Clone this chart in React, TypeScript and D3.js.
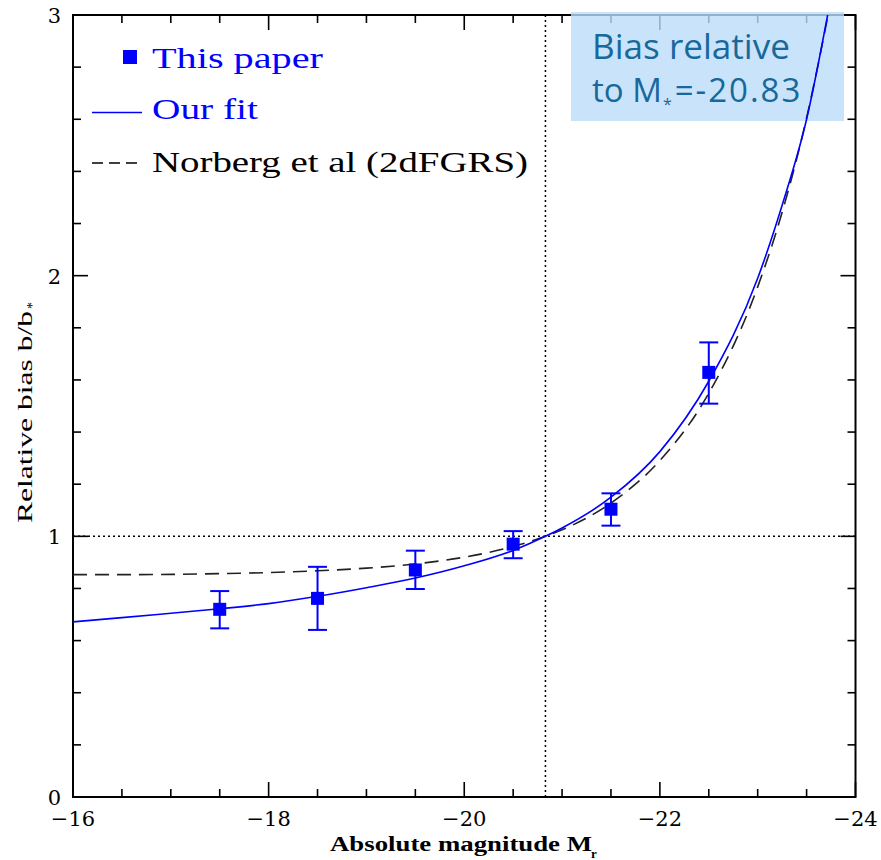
import React from "react";
import * as d3 from "d3";

// ---- data ----
const pointMags = [-17.5, -18.5, -19.5, -20.5, -21.5, -22.5];
const pointBias = [0.72, 0.762, 0.871, 0.97, 1.104, 1.629];
const pointUpper = [0.79, 0.883, 0.945, 1.02, 1.165, 1.744];
const pointLower = [0.647, 0.641, 0.798, 0.916, 1.041, 1.509];

const curveMags = [-16, -16.5, -17, -17.5, -18, -18.5, -19, -19.5, -20, -20.5, -20.83, -21, -21.5, -22, -22.5, -23, -23.25, -23.5, -23.75];
const fitBias = [0.672, 0.688, 0.705, 0.722, 0.742, 0.77, 0.803, 0.84, 0.887, 0.946, 1.0, 1.032, 1.15, 1.325, 1.595, 1.99, 2.27, 2.6, 3.07];
const norbergBias = [0.853, 0.853, 0.854, 0.857, 0.861, 0.868, 0.878, 0.894, 0.92, 0.961, 1.0, 1.025, 1.128, 1.291, 1.549, 1.957, 2.243, 2.605, 3.058];

const mStar = -20.83;
const xMajorTicks = [-16, -18, -20, -22, -24];
const yMajorTicks = [0, 1, 2, 3];
const xTickLabels = ["\u221216", "\u221218", "\u221220", "\u221222", "\u221224"];
const yTickLabels = ["0", "1", "2", "3"];

const legendLabels = ["This paper", "Our fit", "Norberg et al (2dFGRS)"];

export default function App() {
  const L = 73, R = 855.5, T = 15, B = 797;
  const x = d3.scaleLinear().domain([-16, -24]).range([L, R]);
  const y = d3.scaleLinear().domain([0, 3]).range([B, T]);

  const xMinor = d3.range(-16, -24.001, -0.5);
  const yMinor = d3.range(0, 3.001, 0.2);

  const line = d3
    .line<number>()
    .x((_, i) => x(curveMags[i]))
    .curve(d3.curveMonotoneX);
  const fitPath = line.y((v) => y(v))(fitBias) || "";
  const norPath = line.y((v) => y(v))(norbergBias) || "";

  const isMajorX = (v: number) => Math.abs(v / 2 - Math.round(v / 2)) < 1e-6;
  const isMajorY = (v: number) => Math.abs(v - Math.round(v)) < 1e-6;

  const blue = "#0000ff";
  const tickFont = "'DejaVu Serif', serif";
  const legendFont = "'Liberation Serif', serif";
  const noteColor = "#17699b";
  const noteFont = "'Open Sans', sans-serif";

  return (
    <svg
      width={881}
      height={860}
      style={{ position: "absolute", left: 0, top: 0, background: "#fff" }}
    >
      <defs>
        <clipPath id="plotClip">
          <rect x={L} y={T} width={R - L} height={B - T} />
        </clipPath>
      </defs>
      <rect x={0} y={0} width={881} height={860} fill="#fff" />

      {/* frame */}
      <rect x={L} y={T} width={R - L} height={B - T} fill="none" stroke="#000" strokeWidth={2} />

      {/* x ticks bottom and top */}
      {xMinor.map((v, i) => {
        const len = isMajorX(v) ? 15 : 8;
        return (
          <g key={"xt" + i} stroke="#000" strokeWidth={1.6}>
            <line x1={x(v)} x2={x(v)} y1={B} y2={B - len} />
            <line x1={x(v)} x2={x(v)} y1={T} y2={T + len} />
          </g>
        );
      })}
      {/* y ticks left and right */}
      {yMinor.map((v, i) => {
        const len = isMajorY(v) ? 15 : 8;
        return (
          <g key={"yt" + i} stroke="#000" strokeWidth={1.6}>
            <line x1={L} x2={L + len} y1={y(v)} y2={y(v)} />
            <line x1={R} x2={R - len} y1={y(v)} y2={y(v)} />
          </g>
        );
      })}

      {/* tick labels */}
      {xMajorTicks.map((v, i) => (
        <text
          key={"xl" + i}
          x={x(v)}
          y={819}
          textAnchor="middle"
          dominantBaseline="central"
          fontFamily={tickFont}
          fontSize={21}
          fill="#000"
        >
          {xTickLabels[i]}
        </text>
      ))}
      {yMajorTicks.map((v, i) => (
        <text
          key={"yl" + i}
          x={61}
          y={y(v) + 1}
          textAnchor="end"
          dominantBaseline="central"
          fontFamily={tickFont}
          fontSize={21}
          fill="#000"
        >
          {yTickLabels[i]}
        </text>
      ))}

      {/* axis titles */}
      <text x={330} y={851} fontFamily={legendFont} fontWeight="bold" fontSize={20} textLength={262} lengthAdjust="spacingAndGlyphs" fill="#000">
        Absolute magnitude M
      </text>
      <text x={591} y={858} fontFamily={legendFont} fontWeight="bold" fontSize={13} fill="#000">
        r
      </text>
      <g transform="translate(32,410) rotate(-90)">
        <text
          x={-113}
          y={0}
          fontFamily={legendFont}
          fontSize={21}
          fill="#000"
          textLength={212}
          lengthAdjust="spacingAndGlyphs"
        >
          Relative bias b/b
        </text>
        <text x={101} y={5} fontFamily={legendFont} fontSize={14} fill="#000">
          *
        </text>
      </g>

      {/* reference lines */}
      <line x1={L} x2={R} y1={y(1)} y2={y(1)} stroke="#000" strokeWidth={1.5} strokeDasharray="2,3" />
      <line x1={x(mStar)} x2={x(mStar)} y1={T} y2={B} stroke="#000" strokeWidth={1.5} strokeDasharray="2,3" />

      {/* annotation box (semi-transparent) */}
      <rect x={571} y={12} width={273} height={109} fill="#bcdcf9" fillOpacity={0.8} />

      {/* curves */}
      <g clipPath="url(#plotClip)">
        <path d={norPath} fill="none" stroke="#222" strokeWidth={1.6} strokeDasharray="14,8" />
        <path d={fitPath} fill="none" stroke={blue} strokeWidth={1.6} />
      </g>

      {/* error bars and points */}
      {pointMags.map((m, i) => {
        const cx = x(m);
        return (
          <g key={"pt" + i} stroke={blue} strokeWidth={2}>
            <line x1={cx} x2={cx} y1={y(pointUpper[i])} y2={y(pointLower[i])} />
            <line x1={cx - 9.5} x2={cx + 9.5} y1={y(pointUpper[i])} y2={y(pointUpper[i])} />
            <line x1={cx - 9.5} x2={cx + 9.5} y1={y(pointLower[i])} y2={y(pointLower[i])} />
            <rect x={cx - 6.5} y={y(pointBias[i]) - 6.5} width={13} height={13} fill={blue} stroke="none" />
          </g>
        );
      })}

      {/* legend */}
      <rect x={123} y={50} width={14} height={14} fill={blue} />
      <text x={152} y={68} fontFamily={legendFont} fontSize={30} fill={blue} textLength={171} lengthAdjust="spacingAndGlyphs">
        {legendLabels[0]}
      </text>
      <line x1={92} x2={142} y1={112.5} y2={112.5} stroke={blue} strokeWidth={1.6} />
      <text x={152} y={119} fontFamily={legendFont} fontSize={30} fill={blue} textLength={106} lengthAdjust="spacingAndGlyphs">
        {legendLabels[1]}
      </text>
      <line x1={92} x2={143} y1={163} y2={163} stroke="#000" strokeWidth={1.6} strokeDasharray="11,6" />
      <text x={152} y={172} fontFamily={legendFont} fontSize={30} fill="#000" textLength={376} lengthAdjust="spacingAndGlyphs">
        {legendLabels[2]}
      </text>

      {/* annotation text */}
      <text x={592} y={59} fontFamily={noteFont} fontSize={35} fill={noteColor} textLength={198} lengthAdjust="spacingAndGlyphs">
        Bias relative
      </text>
      <text x={592} y={102} fontFamily={noteFont} fontSize={33} fill={noteColor}>
        to M
        <tspan fontSize={16} dx={1} dy={8}>*</tspan>
        <tspan dx={3} dy={-8} letterSpacing={2}>=-20.83</tspan>
      </text>
    </svg>
  );
}
